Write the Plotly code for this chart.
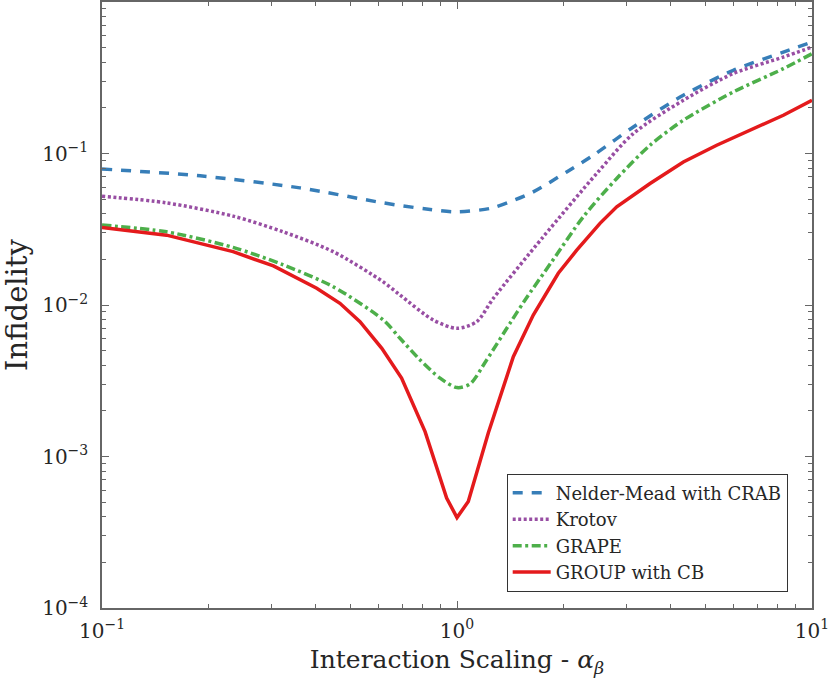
import plotly.graph_objects as go

# Nelder-Mead with CRAB
nm_x = [0.1, 0.189, 0.361, 0.62, 0.82, 1.0, 1.239, 1.41, 1.64, 2.037, 2.421, 3.138, 4.341, 6.002, 8.303, 10.0]
nm_y = [0.0790, 0.0712, 0.0593, 0.0472, 0.0430, 0.0412, 0.0434, 0.0480, 0.0558, 0.0756, 0.0974, 0.1497, 0.2422, 0.354, 0.467, 0.544]

# Krotov
kr_x = [0.1, 0.152, 0.234, 0.324, 0.448, 0.62, 0.691, 0.857, 1.0, 1.136, 1.266, 1.75, 2.475, 3.138, 4.341, 6.002, 8.303, 10.0]
kr_y = [0.0523, 0.0472, 0.0386, 0.0304, 0.0225, 0.0142, 0.01164, 0.00796, 0.00702, 0.00776, 0.01107, 0.0282, 0.0738, 0.1354, 0.2245, 0.337, 0.433, 0.504]

# GRAPE
gr_x = [0.1, 0.152, 0.234, 0.324, 0.448, 0.62, 0.691, 0.787, 0.896, 1.0, 1.088, 1.212, 1.41, 1.555, 1.849, 2.269, 2.818, 3.498, 4.341, 6.002, 8.303, 10.0]
gr_y = [0.0337, 0.0304, 0.0240, 0.0184, 0.0132, 0.00796, 0.00603, 0.00434, 0.00329, 0.00285, 0.00301, 0.00434, 0.00757, 0.01079, 0.0193, 0.0382, 0.0684, 0.1134, 0.1658, 0.2547, 0.363, 0.456]

# GROUP with CB
gp_x = [0.1, 0.152, 0.234, 0.304, 0.4025, 0.468, 0.533, 0.614, 0.698, 0.813, 0.935, 1.0, 1.076, 1.225, 1.441, 1.64, 1.929, 2.174, 2.528, 2.818, 3.498, 4.341, 5.389, 6.69, 8.303, 10.0]
gp_y = [0.0325, 0.0289, 0.0225, 0.0181, 0.0129, 0.01026, 0.00776, 0.00518, 0.00329, 0.00146, 0.000532, 0.000395, 0.000505, 0.00143, 0.00456, 0.00859, 0.0162, 0.0230, 0.0346, 0.0445, 0.0634, 0.0880, 0.1134, 0.1424, 0.1789, 0.2245]

# tick labels
x_tickvals = [0.1, 1, 10]
x_ticktext = ["10<sup>−1</sup>", "10<sup>0</sup>", "10<sup>1</sup>"]
y_tickvals = [1e-4, 1e-3, 1e-2, 1e-1]
y_ticktext = ["10<sup>−4</sup>", "10<sup>−3</sup>", "10<sup>−2</sup>", "10<sup>−1</sup>"]

FONT = "DejaVu Serif, Liberation Serif, serif"
AXIS_COLOR = "#666666"
TEXT_COLOR = "#262626"


def minor_positions(lo_exp, hi_exp):
    # 2..9 within each decade
    return [m * 10.0 ** e for e in range(lo_exp, hi_exp) for m in range(2, 10)]


fig = go.Figure()

fig.add_trace(go.Scatter(
    x=nm_x, y=nm_y, mode="lines", name="Nelder-Mead with CRAB",
    line=dict(color="#377eb8", width=3.5, dash="10px,9px", shape="spline", smoothing=0.8),
))
fig.add_trace(go.Scatter(
    x=kr_x, y=kr_y, mode="lines", name="Krotov",
    line=dict(color="#984ea3", width=3.5, dash="3px,2.5px", shape="spline", smoothing=0.8),
))
fig.add_trace(go.Scatter(
    x=gr_x, y=gr_y, mode="lines", name="GRAPE",
    line=dict(color="#4daf4a", width=3.5, dash="9px,3.5px,3px,3.5px", shape="spline", smoothing=0.8),
))
fig.add_trace(go.Scatter(
    x=gp_x, y=gp_y, mode="lines", name="GROUP with CB",
    line=dict(color="#e41a1c", width=3.5),
))

axis_common = dict(
    type="log",
    showgrid=False,
    zeroline=False,
    showline=True,
    linecolor=AXIS_COLOR,
    linewidth=1.5,
    mirror="ticks",
    ticks="inside",
    ticklen=7,
    tickwidth=1,
    tickcolor=AXIS_COLOR,
    tickmode="array",
    tickfont=dict(family=FONT, size=20, color=TEXT_COLOR),
    automargin=False,
)

fig.update_layout(
    width=830,
    height=689,
    margin=dict(l=102, r=18, t=2, b=81),
    paper_bgcolor="white",
    plot_bgcolor="white",
    font=dict(family=FONT, color=TEXT_COLOR),
    showlegend=True,
    legend=dict(
        x=0.570, y=0.027, xanchor="left", yanchor="bottom",
        bgcolor="white", bordercolor="#333333", borderwidth=1,
        font=dict(family=FONT, size=18, color=TEXT_COLOR),
        tracegroupgap=0,
        itemwidth=38,
    ),
    xaxis=dict(
        axis_common,
        range=[-1, 1],
        tickvals=x_tickvals,
        ticktext=x_ticktext,
        ticklabelstandoff=4,
        minor=dict(tickmode="array", tickvals=minor_positions(-1, 1), ticks="inside",
                   ticklen=4, tickcolor=AXIS_COLOR, showgrid=False),
        title=dict(text="Interaction Scaling - <i>α</i><sub><i>β</i></sub>",
                   font=dict(family=FONT, size=25), standoff=9),
    ),
    yaxis=dict(
        axis_common,
        range=[-4, 0],
        tickvals=y_tickvals,
        ticktext=y_ticktext,
        ticklabelstandoff=8,
        minor=dict(tickmode="array", tickvals=minor_positions(-4, 0), ticks="inside",
                   ticklen=4, tickcolor=AXIS_COLOR, showgrid=False),
        title=dict(text="Infidelity", font=dict(family=FONT, size=29), standoff=8),
    ),
)

# drop the page's default body margin so the figure sits at the window corner
fig.write_html("out.html", config={"displayModeBar": False},
               post_script="document.body.style.margin='0px';")
